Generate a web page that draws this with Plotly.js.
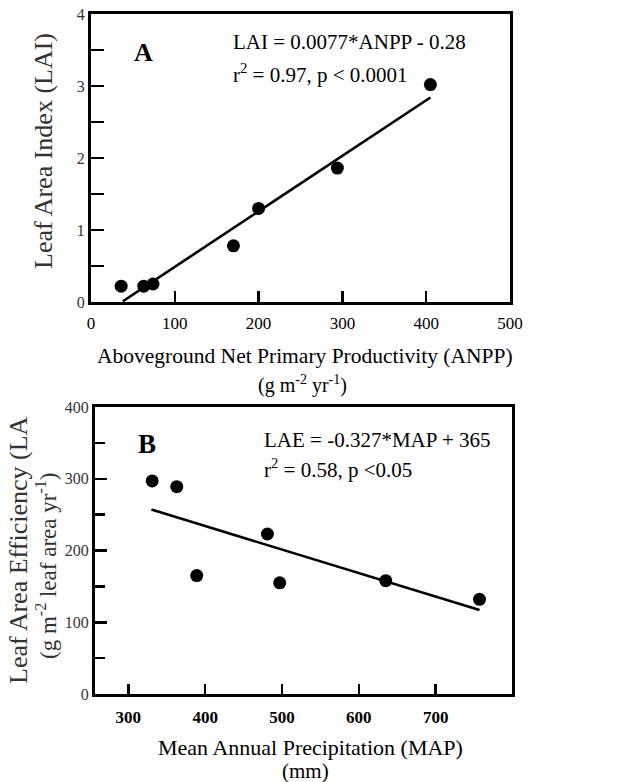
<!DOCTYPE html>
<html><head><meta charset="utf-8">
<script src="https://cdn.plot.ly/plotly-3.0.1.min.js"></script>
<style>html,body{margin:0;padding:0;background:#fff}#chart{width:618px;height:782px}</style>
</head><body><div id="chart"></div>
<script>
// Panel A data
const anpp = [36, 63, 74, 170, 200, 294, 405];
const lai = [0.22, 0.22, 0.25, 0.78, 1.30, 1.86, 3.02];
const fitAx = [38, 405];
const fitAy = [0.01, 2.84];
// Panel B data
const map = [331, 363, 389, 481, 497, 635, 757];
const lae = [297, 289, 165, 223, 155, 158, 132];
const fitBx = [330, 757];
const fitBy = [257, 117];
// Tick labels
const xTicksA = [0, 100, 200, 300, 400, 500];
const yTicksA = [0, 1, 2, 3, 4];
const xTicksB = [300, 400, 500, 600, 700];
const yTicksB = [0, 100, 200, 300, 400];

const W = 618, H = 782;
const px = x => x / W, py = y => 1 - y / H;
const SERIF = 'Liberation Serif, Times New Roman, serif';

const traces = [
  {x: fitAx, y: fitAy, mode: 'lines', line: {color: '#000', width: 2.6}, xaxis: 'x', yaxis: 'y', hoverinfo: 'skip'},
  {x: anpp, y: lai, mode: 'markers', marker: {color: '#000', size: 13}, xaxis: 'x', yaxis: 'y'},
  {x: fitBx, y: fitBy, mode: 'lines', line: {color: '#000', width: 2.6}, xaxis: 'x2', yaxis: 'y2', hoverinfo: 'skip'},
  {x: map, y: lae, mode: 'markers', marker: {color: '#000', size: 13}, xaxis: 'x2', yaxis: 'y2'}
];

const axBase = {showline: true, mirror: true, linecolor: '#000', linewidth: 3, showgrid: false, zeroline: false, ticks: 'inside', tickcolor: '#000', tickwidth: 2.5};

function ann(text, x, y, o) {
  return Object.assign({text: text, x: px(x), y: py(y), xref: 'paper', yref: 'paper', showarrow: false,
    xanchor: 'left', yanchor: 'middle', font: {family: SERIF, size: 21, color: '#000'}}, o || {});
}

const layout = {
  width: W, height: H, margin: {l: 0, r: 0, t: 0, b: 0}, showlegend: false,
  paper_bgcolor: '#fff', plot_bgcolor: '#fff', font: {family: SERIF, color: '#000'},
  xaxis: Object.assign({}, axBase, {domain: [px(91), px(510)], range: [0, 500], tickvals: xTicksA, ticklen: 11,
    ticklabelstandoff: 4, tickfont: {family: SERIF, size: 17, color: '#000'}, anchor: 'y'}),
  yaxis: Object.assign({}, axBase, {domain: [py(302), py(14)], range: [0, 4], tickvals: yTicksA, ticklen: 13,
    minor: {ticks: 'inside', dtick: 0.5, tick0: 0, ticklen: 13, tickwidth: 2.5, tickcolor: '#000'},
    tickfont: {family: SERIF, size: 16, color: '#333'}, anchor: 'x'}),
  xaxis2: Object.assign({}, axBase, {domain: [px(95), px(512)], range: [256.6, 799.3], tickvals: xTicksB, ticklen: 10,
    ticklabelstandoff: 6, tickfont: {family: SERIF, size: 17, color: '#000', weight: 'bold'}, anchor: 'y2'}),
  yaxis2: Object.assign({}, axBase, {domain: [py(694), py(407)], range: [0, 400], tickvals: yTicksB, ticklen: 12,
    minor: {ticks: 'inside', dtick: 50, tick0: 0, ticklen: 10, tickwidth: 2.5, tickcolor: '#000'},
    tickfont: {family: SERIF, size: 16, color: '#333'}, anchor: 'x2'}),
  annotations: [
    ann('<b>A</b>', 143, 52, {xanchor: 'center', font: {family: SERIF, size: 26, color: '#000'}}),
    ann('LAI = 0.0077*ANPP - 0.28', 231, 42),
    ann('r<sup>2</sup> = 0.97, p &lt; 0.0001', 231, 74),
    ann('Aboveground Net Primary Productivity (ANPP)', 305, 356, {xanchor: 'center', font: {family: SERIF, size: 21.5, color: '#000'}}),
    ann('(g m<sup>-2</sup> yr<sup>-1</sup>)', 302, 384, {xanchor: 'center', font: {family: SERIF, size: 20, color: '#000'}}),
    ann('Leaf Area Index (LAI)', 43, 151, {xanchor: 'center', textangle: -90, font: {family: SERIF, size: 26, color: '#333'}}),
    ann('<b>B</b>', 147, 444, {xanchor: 'center', font: {family: SERIF, size: 27, color: '#000'}}),
    ann('LAE = -0.327*MAP + 365', 262, 440),
    ann('r<sup>2</sup> = 0.58, p &lt;0.05', 262, 468),
    ann('Mean Annual Precipitation (MAP)', 310, 747, {xanchor: 'center', font: {family: SERIF, size: 22, color: '#000'}}),
    ann('(mm)', 305, 771, {xanchor: 'center', font: {family: SERIF, size: 21, color: '#000'}}),
    ann('Leaf Area Efficiency (LA', 18, 550, {xanchor: 'center', textangle: -90, font: {family: SERIF, size: 26, color: '#333'}}),
    ann('(g m<sup>-2</sup> leaf area yr<sup>-1</sup>)', 46, 566, {xanchor: 'center', textangle: -90, font: {family: SERIF, size: 23, color: '#333'}})
  ]
};

Plotly.newPlot('chart', traces, layout, {displayModeBar: false, staticPlot: true});
</script></body></html>
